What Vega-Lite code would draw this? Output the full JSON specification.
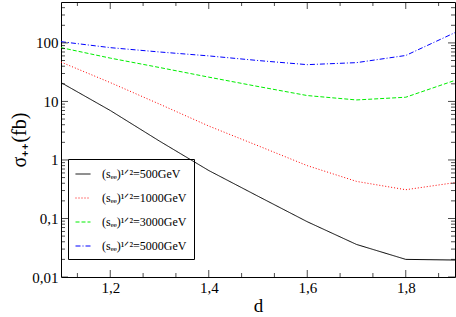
{
  "$schema": "https://vega.github.io/schema/vega-lite/v6.json",
  "width": 394,
  "height": 275,
  "autosize": "none",
  "padding": {"left": 61, "top": 2, "right": 1, "bottom": 40},
  "background": "white",
  "config": {
    "view": {"stroke": "#000", "strokeWidth": 1},
    "axis": {"domain": false, "grid": false, "labelColor": "#000", "titleColor": "#000", "labelFont": "Liberation Serif", "titleFont": "Liberation Serif", "labelFontSize": 15, "titleFontWeight": "normal"}
  },
  "resolve": {"axis": {"x": "independent", "y": "independent"}},
  "datasets": {
    "xticks": [
      {"v": 1.2, "kind": "major"}, {"v": 1.4, "kind": "major"}, {"v": 1.6, "kind": "major"}, {"v": 1.8, "kind": "major"},
      {"v": 1.1333, "kind": "minor"}, {"v": 1.2667, "kind": "minor"}, {"v": 1.3333, "kind": "minor"}, {"v": 1.4667, "kind": "minor"},
      {"v": 1.5333, "kind": "minor"}, {"v": 1.6667, "kind": "minor"}, {"v": 1.7333, "kind": "minor"}, {"v": 1.8667, "kind": "minor"}
    ],
    "yticks": [
      {"v": 0.01, "kind": "major"}, {"v": 0.1, "kind": "major"}, {"v": 1, "kind": "major"}, {"v": 10, "kind": "major"}, {"v": 100, "kind": "major"},
      {"v": 0.02, "kind": "minor"}, {"v": 0.03, "kind": "minor"}, {"v": 0.04, "kind": "minor"}, {"v": 0.05, "kind": "minor"}, {"v": 0.06, "kind": "minor"}, {"v": 0.07, "kind": "minor"}, {"v": 0.08, "kind": "minor"}, {"v": 0.09, "kind": "minor"},
      {"v": 0.2, "kind": "minor"}, {"v": 0.3, "kind": "minor"}, {"v": 0.4, "kind": "minor"}, {"v": 0.5, "kind": "minor"}, {"v": 0.6, "kind": "minor"}, {"v": 0.7, "kind": "minor"}, {"v": 0.8, "kind": "minor"}, {"v": 0.9, "kind": "minor"},
      {"v": 2, "kind": "minor"}, {"v": 3, "kind": "minor"}, {"v": 4, "kind": "minor"}, {"v": 5, "kind": "minor"}, {"v": 6, "kind": "minor"}, {"v": 7, "kind": "minor"}, {"v": 8, "kind": "minor"}, {"v": 9, "kind": "minor"},
      {"v": 20, "kind": "minor"}, {"v": 30, "kind": "minor"}, {"v": 40, "kind": "minor"}, {"v": 50, "kind": "minor"}, {"v": 60, "kind": "minor"}, {"v": 70, "kind": "minor"}, {"v": 80, "kind": "minor"}, {"v": 90, "kind": "minor"},
      {"v": 200, "kind": "minor"}, {"v": 300, "kind": "minor"}, {"v": 400, "kind": "minor"}
    ],
    "curves": [
      {"d": 1.1, "s": 21, "series": "(sₑₑ)¹ᐟ²=500GeV"},
      {"d": 1.2, "s": 7.0, "series": "(sₑₑ)¹ᐟ²=500GeV"},
      {"d": 1.3, "s": 2.1, "series": "(sₑₑ)¹ᐟ²=500GeV"},
      {"d": 1.4, "s": 0.66, "series": "(sₑₑ)¹ᐟ²=500GeV"},
      {"d": 1.5, "s": 0.24, "series": "(sₑₑ)¹ᐟ²=500GeV"},
      {"d": 1.6, "s": 0.088, "series": "(sₑₑ)¹ᐟ²=500GeV"},
      {"d": 1.7, "s": 0.036, "series": "(sₑₑ)¹ᐟ²=500GeV"},
      {"d": 1.8, "s": 0.02, "series": "(sₑₑ)¹ᐟ²=500GeV"},
      {"d": 1.9, "s": 0.0195, "series": "(sₑₑ)¹ᐟ²=500GeV"},
      {"d": 1.1, "s": 47, "series": "(sₑₑ)¹ᐟ²=1000GeV"},
      {"d": 1.2, "s": 21, "series": "(sₑₑ)¹ᐟ²=1000GeV"},
      {"d": 1.3, "s": 9, "series": "(sₑₑ)¹ᐟ²=1000GeV"},
      {"d": 1.4, "s": 3.8, "series": "(sₑₑ)¹ᐟ²=1000GeV"},
      {"d": 1.5, "s": 1.75, "series": "(sₑₑ)¹ᐟ²=1000GeV"},
      {"d": 1.6, "s": 0.8, "series": "(sₑₑ)¹ᐟ²=1000GeV"},
      {"d": 1.7, "s": 0.43, "series": "(sₑₑ)¹ᐟ²=1000GeV"},
      {"d": 1.8, "s": 0.31, "series": "(sₑₑ)¹ᐟ²=1000GeV"},
      {"d": 1.9, "s": 0.41, "series": "(sₑₑ)¹ᐟ²=1000GeV"},
      {"d": 1.1, "s": 83, "series": "(sₑₑ)¹ᐟ²=3000GeV"},
      {"d": 1.2, "s": 55, "series": "(sₑₑ)¹ᐟ²=3000GeV"},
      {"d": 1.3, "s": 38, "series": "(sₑₑ)¹ᐟ²=3000GeV"},
      {"d": 1.4, "s": 26, "series": "(sₑₑ)¹ᐟ²=3000GeV"},
      {"d": 1.5, "s": 18, "series": "(sₑₑ)¹ᐟ²=3000GeV"},
      {"d": 1.6, "s": 12.6, "series": "(sₑₑ)¹ᐟ²=3000GeV"},
      {"d": 1.7, "s": 10.6, "series": "(sₑₑ)¹ᐟ²=3000GeV"},
      {"d": 1.8, "s": 11.8, "series": "(sₑₑ)¹ᐟ²=3000GeV"},
      {"d": 1.9, "s": 22.9, "series": "(sₑₑ)¹ᐟ²=3000GeV"},
      {"d": 1.1, "s": 105, "series": "(sₑₑ)¹ᐟ²=5000GeV"},
      {"d": 1.2, "s": 83, "series": "(sₑₑ)¹ᐟ²=5000GeV"},
      {"d": 1.3, "s": 70, "series": "(sₑₑ)¹ᐟ²=5000GeV"},
      {"d": 1.4, "s": 60, "series": "(sₑₑ)¹ᐟ²=5000GeV"},
      {"d": 1.5, "s": 50, "series": "(sₑₑ)¹ᐟ²=5000GeV"},
      {"d": 1.6, "s": 42.5, "series": "(sₑₑ)¹ᐟ²=5000GeV"},
      {"d": 1.7, "s": 46, "series": "(sₑₑ)¹ᐟ²=5000GeV"},
      {"d": 1.8, "s": 61, "series": "(sₑₑ)¹ᐟ²=5000GeV"},
      {"d": 1.9, "s": 150, "series": "(sₑₑ)¹ᐟ²=5000GeV"}
    ]
  },
  "layer": [
    {
      "data": {"name": "curves"},
      "mark": {"type": "line", "strokeWidth": 1, "clip": true},
      "encoding": {
        "x": {"field": "d", "type": "quantitative",
          "scale": {"domain": [1.1, 1.9], "nice": false, "zero": false},
          "axis": {"orient": "bottom", "values": [1.2, 1.4, 1.6, 1.8], "ticks": false, "labelPadding": 3,
            "labelExpr": "replace(format(datum.value, '.1f'), '.', ',')", "title": "d", "titleFontSize": 19, "titlePadding": 1}},
        "y": {"field": "s", "type": "quantitative",
          "scale": {"type": "log", "domain": [0.01, 500], "nice": false},
          "axis": {"orient": "left", "values": [0.01, 0.1, 1, 10, 100], "ticks": false, "labelPadding": 3,
            "labelExpr": "datum.value >= 1 ? format(datum.value, 'd') : replace(format(datum.value, '~g'), '.', ',')",
            "title": "σ₊₊(fb)", "titleFontSize": 20, "titlePadding": 2}},
        "color": {"field": "series", "type": "nominal",
          "scale": {"domain": ["(sₑₑ)¹ᐟ²=500GeV", "(sₑₑ)¹ᐟ²=1000GeV", "(sₑₑ)¹ᐟ²=3000GeV", "(sₑₑ)¹ᐟ²=5000GeV"], "range": ["#000000", "#ff0000", "#00ee00", "#0000ff"]},
          "legend": {"title": null, "orient": "none", "legendX": 7, "legendY": 157, "strokeColor": "#000", "padding": 7,
            "symbolType": "stroke", "symbolSize": 225, "symbolStrokeWidth": 1, "labelFont": "Liberation Serif", "labelFontSize": 12, "labelOffset": 11, "rowPadding": 10, "labelColor": "#000"}},
        "strokeDash": {"field": "series", "type": "nominal",
          "scale": {"domain": ["(sₑₑ)¹ᐟ²=500GeV", "(sₑₑ)¹ᐟ²=1000GeV", "(sₑₑ)¹ᐟ²=3000GeV", "(sₑₑ)¹ᐟ²=5000GeV"], "range": [[1, 0], [1, 2], [4, 2], [5, 2, 1, 2]]},
          "legend": {"title": null, "orient": "none", "legendX": 7, "legendY": 157}}
      }
    },
    {
      "data": {"name": "xticks"},
      "mark": {"type": "tick", "orient": "vertical", "thickness": 1, "color": "#000", "clip": true},
      "encoding": {
        "x": {"field": "v", "type": "quantitative", "scale": {"domain": [1.1, 1.9], "nice": false, "zero": false}, "axis": null},
        "y": {"datum": 0.01, "type": "quantitative", "scale": {"type": "log", "domain": [0.01, 500], "nice": false}, "axis": null},
        "size": {"field": "kind", "type": "nominal", "scale": {"domain": ["major", "minor"], "range": [14, 8]}, "legend": null}
      }
    },
    {
      "data": {"name": "xticks"},
      "mark": {"type": "tick", "orient": "vertical", "thickness": 1, "color": "#000", "clip": true},
      "encoding": {
        "x": {"field": "v", "type": "quantitative", "scale": {"domain": [1.1, 1.9], "nice": false, "zero": false}, "axis": null},
        "y": {"datum": 500, "type": "quantitative", "scale": {"type": "log", "domain": [0.01, 500], "nice": false}, "axis": null},
        "size": {"field": "kind", "type": "nominal", "scale": {"domain": ["major", "minor"], "range": [14, 8]}, "legend": null}
      }
    },
    {
      "data": {"name": "yticks"},
      "mark": {"type": "tick", "orient": "horizontal", "thickness": 1, "color": "#000", "clip": true},
      "encoding": {
        "y": {"field": "v", "type": "quantitative", "scale": {"type": "log", "domain": [0.01, 500], "nice": false}, "axis": null},
        "x": {"datum": 1.1, "type": "quantitative", "scale": {"domain": [1.1, 1.9], "nice": false, "zero": false}, "axis": null},
        "size": {"field": "kind", "type": "nominal", "scale": {"domain": ["major", "minor"], "range": [14, 8]}, "legend": null}
      }
    },
    {
      "data": {"name": "yticks"},
      "mark": {"type": "tick", "orient": "horizontal", "thickness": 1, "color": "#000", "clip": true},
      "encoding": {
        "y": {"field": "v", "type": "quantitative", "scale": {"type": "log", "domain": [0.01, 500], "nice": false}, "axis": null},
        "x": {"datum": 1.9, "type": "quantitative", "scale": {"domain": [1.1, 1.9], "nice": false, "zero": false}, "axis": null},
        "size": {"field": "kind", "type": "nominal", "scale": {"domain": ["major", "minor"], "range": [14, 8]}, "legend": null}
      }
    }
  ]
}
